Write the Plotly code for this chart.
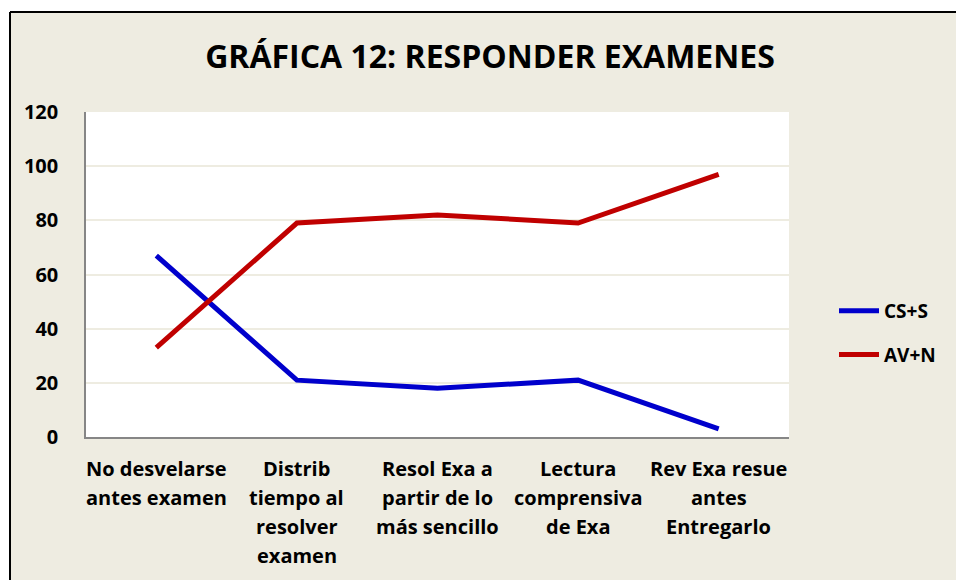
import plotly.graph_objects as go

categories = ["No desvelarse<br>antes examen",
              "Distrib<br>tiempo al<br>resolver<br>examen",
              "Resol Exa a<br>partir de lo<br>más sencillo",
              "Lectura<br>comprensiva<br>de Exa",
              "Rev Exa resue<br>antes<br>Entregarlo"]
cs_s = [67, 21, 18, 21, 3]
av_n = [33, 79, 82, 79, 97]
y_ticks = [0, 20, 40, 60, 80, 100, 120]
title_text = "GRÁFICA 12: RESPONDER EXAMENES"

FONT = "'Open Sans', sans-serif"
BG = "#EEECE1"

W, H = 956, 580
L, T = 86, 112
R = W - 789
B = H - 437
pw, ph = W - L - R, H - T - B

fig = go.Figure()
fig.add_trace(go.Scatter(x=list(range(len(categories))), y=cs_s, mode="lines", name="CS+S",
                         line=dict(color="#0000CC", width=5), legendgroup="a"))
fig.add_trace(go.Scatter(x=list(range(len(categories))), y=av_n, mode="lines", name="AV+N",
                         line=dict(color="#C00000", width=5), legendgroup="b"))

annotations = []
for i, lab in enumerate(categories):
    for j, line in enumerate(lab.split("<br>")):
        annotations.append(dict(x=i, y=0, xref="x", yref="paper", text=line,
                                showarrow=False, yanchor="top", xanchor="center",
                                yshift=-16 - 29 * j,
                                font=dict(family=FONT, size=20, color="#000000", weight="bold")))

def px_x(p):
    return (p - L) / pw

def px_y(p):
    return (H - B - p) / ph

fig.update_layout(
    width=W, height=H,
    margin=dict(l=L, r=R, t=T, b=B),
    paper_bgcolor=BG,
    plot_bgcolor="white",
    title=dict(text=title_text, x=490 / W, xanchor="center",
               y=1 - 57 / H, yanchor="middle", xref="container", yref="container",
               font=dict(family=FONT, size=32, color="#000000", weight="bold")),
    xaxis=dict(range=[-0.5, len(categories) - 0.5], showticklabels=False, showgrid=False,
               showline=True, linecolor="#868686", linewidth=2, zeroline=False, ticks=""),
    yaxis=dict(range=[0, 120], tickvals=y_ticks, showgrid=True, gridcolor=BG, gridwidth=1.5,
               showline=True, linecolor="#868686", linewidth=1.5, zeroline=False, ticks="",
               ticklabelstandoff=22,
               tickfont=dict(family=FONT, size=20, color="#000000", weight="bold")),
    legend=dict(x=px_x(834), y=px_y(333), xanchor="left", yanchor="middle",
                bgcolor="rgba(0,0,0,0)", tracegroupgap=16,
                font=dict(family=FONT, size=19, color="#000000", weight="bold"), itemwidth=40),
    annotations=annotations,
    shapes=[
        dict(type="rect", xref="paper", yref="paper", layer="below",
             x0=px_x(-20), x1=px_x(W + 20), y0=px_y(12), y1=px_y(-20),
             fillcolor="white", line=dict(width=0)),
        dict(type="rect", xref="paper", yref="paper", layer="below",
             x0=px_x(-20), x1=px_x(10), y0=px_y(H + 20), y1=px_y(12),
             fillcolor="white", line=dict(width=0)),
        dict(type="line", xref="paper", yref="paper", layer="above",
             x0=px_x(10), x1=px_x(W + 20), y0=px_y(12), y1=px_y(12),
             line=dict(color="#000000", width=2)),
        dict(type="line", xref="paper", yref="paper", layer="above",
             x0=px_x(10), x1=px_x(10), y0=px_y(12), y1=px_y(H + 20),
             line=dict(color="#000000", width=2)),
    ],
)

fig.write_html("out.html", config={"displayModeBar": False},
               post_script="document.body.style.margin='0';document.body.style.overflow='hidden';")
